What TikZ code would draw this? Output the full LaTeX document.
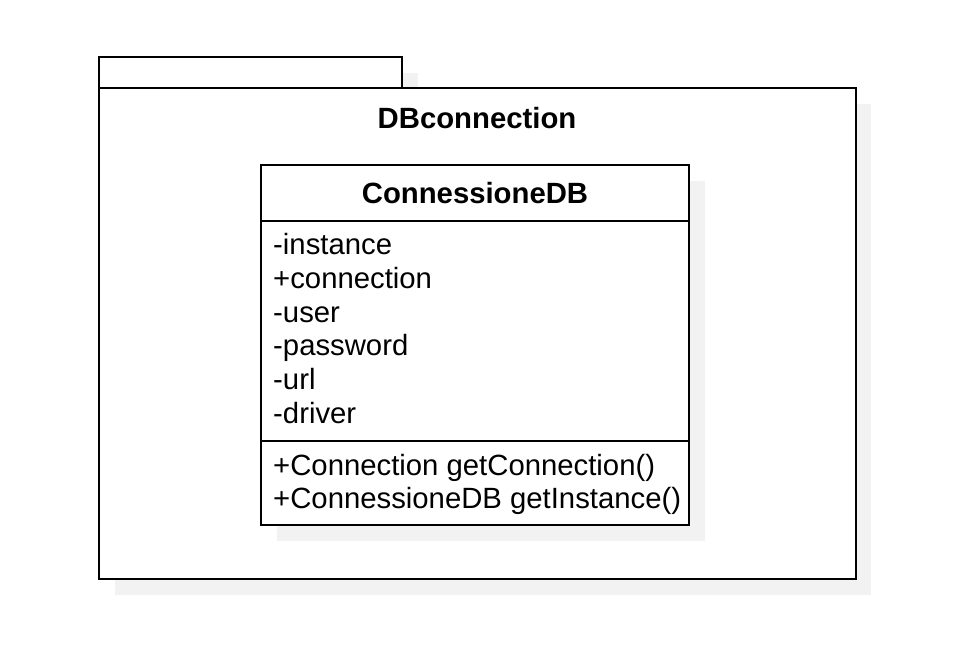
\documentclass[tikz,border=0pt]{standalone}
\usepackage{fontspec}
\setmainfont{Liberation Sans}
\definecolor{shadowgray}{HTML}{F2F2F2}
\tikzset{
  box/.style={draw=black, line width=2pt, fill=white},
  shade/.style={fill=shadowgray, draw=none},
  member/.style={anchor=base west, inner sep=0pt, font=\fontsize{29.3}{34}\selectfont},
  title/.style={inner sep=0pt, font=\fontsize{29.3}{34}\selectfont\bfseries},
}
\begin{document}
\begin{tikzpicture}[x=1pt,y=-1pt]
\useasboundingbox (0,0) rectangle (957,653);
% package shadows
\fill[shade] (115,73) rectangle (418,104);
\fill[shade] (115,104) rectangle (871,595);
% package tab and body
\draw[box] (99,57) rectangle (402,88);
\node[box, minimum width=757pt, minimum height=491pt, anchor=north west, inner sep=0pt, outer sep=0pt] (pkg) at (99,88) {};
\node[title] (pkgname) at (477,118) {DBconnection};
% class shadow
\fill[shade] (277,181) rectangle (705,541);
% class box
\node[box, minimum width=428pt, minimum height=360pt, anchor=north west, inner sep=0pt, outer sep=0pt] (cls) at (261,165) {};
\coordinate (h1) at (261,221);
\coordinate (h2) at (689,221);
\coordinate (s1) at (261,441);
\coordinate (s2) at (689,441);
\draw[line width=2pt] (h1) -- (h2);
\draw[line width=2pt] (s1) -- (s2);
\node[title] (clsname) at (475,193) {ConnessioneDB};
\node[member] (a1) at (273,254) {-instance};
\node[member] (a2) at (273,288) {+connection};
\node[member] (a3) at (273,322) {-user};
\node[member] (a4) at (273,355) {-password};
\node[member] (a5) at (273,389) {-url};
\node[member] (a6) at (273,423) {-driver};
\node[member] (m1) at (273,475) {+Connection getConnection()};
\node[member] (m2) at (273,508) {+ConnessioneDB getInstance()};
\end{tikzpicture}
\end{document}
